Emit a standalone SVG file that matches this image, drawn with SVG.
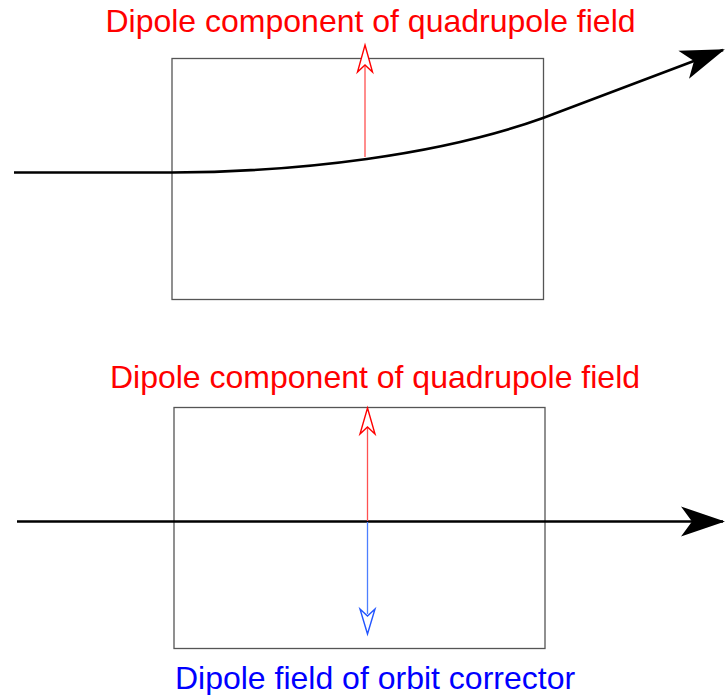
<svg xmlns="http://www.w3.org/2000/svg" width="726" height="695" viewBox="0 0 726 695">
<style>
.box{fill:none;stroke:#555;stroke-width:1.3}
.beam{fill:none;stroke:#000;stroke-width:2.6}
.lbl{font-family:"Liberation Sans",Arial,sans-serif;font-size:32px;text-anchor:middle}
.red{fill:#ff0000}
.blue{fill:#0000ff}
.rl{stroke:#ff5050;stroke-width:1.3;fill:none}
.bl{stroke:#4d7fff;stroke-width:1.3;fill:none}
.rh{fill:#fff;stroke:#ff0000;stroke-width:1.4}
.bh{fill:#fff;stroke:#2255ff;stroke-width:1.4}
</style>
<defs>
<marker id="big" markerUnits="userSpaceOnUse" markerWidth="50" markerHeight="40" refX="0" refY="0" viewBox="-45 -20 50 40" orient="auto" overflow="visible">
<path d="M2,0 L-42,-15 L-31,0 L-42,15 Z" fill="#000"/>
</marker>
</defs>
<g id="top-box"><rect class="box" x="172" y="58.5" width="371.5" height="241"/></g>
<g id="bottom-box"><rect class="box" x="174" y="407.5" width="371" height="241"/></g>
<g id="labels">
<text class="lbl red" x="370.5" y="32">Dipole component of quadrupole field</text>
<text class="lbl red" x="375" y="388">Dipole component of quadrupole field</text>
<text class="lbl blue" x="375" y="689">Dipole field of orbit corrector</text>
</g>
<g id="connectors">
<path class="beam" d="M14,172.5 L172,172.5 C300,172 440,155 543,118 L723,50" marker-end="url(#big)"/>
<path class="beam" d="M17,521.5 L723,521.5" marker-end="url(#big)"/>
<line class="rl" x1="365" y1="157" x2="365" y2="66"/>
<path class="rh" d="M365,45 L372.5,72 L365,65 L357.5,72 Z"/>
<line class="rl" x1="367.5" y1="521" x2="367.5" y2="428"/>
<path class="rh" d="M367.5,408 L375,434 L367.5,427 L360,434 Z"/>
<line class="bl" x1="367.5" y1="522" x2="367.5" y2="614"/>
<path class="bh" d="M367.5,634 L375,609 L367.5,616 L360,609 Z"/>
</g>
</svg>
